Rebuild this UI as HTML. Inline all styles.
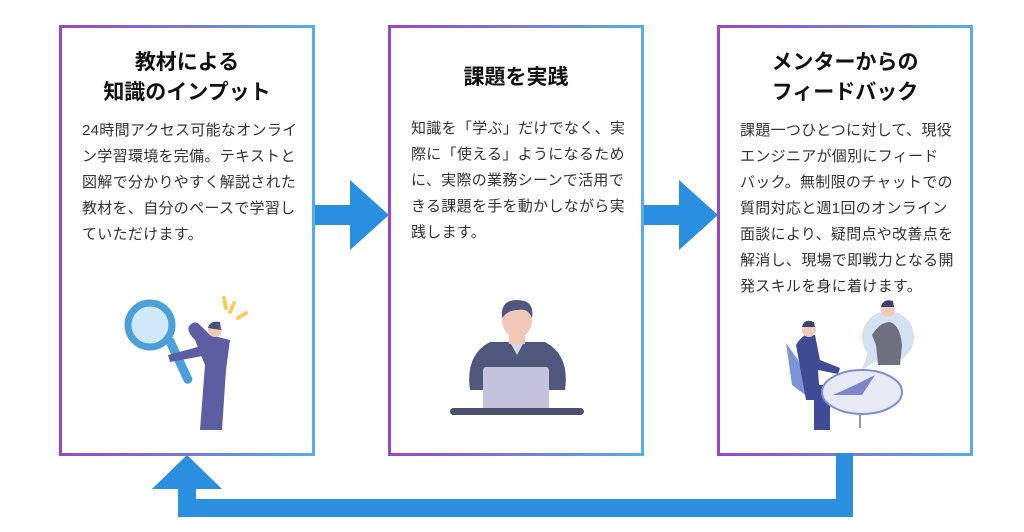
<!DOCTYPE html>
<html><head><meta charset="utf-8"><style>
body{margin:0;width:1024px;height:532px;background:#fff;position:relative;overflow:hidden;font-family:"Liberation Sans","Noto Sans CJK JP",sans-serif;color:#222}
.box{position:absolute;top:25px;width:250px;height:425px;border:3px solid;border-image:linear-gradient(to right,#9b45c9,#55aee8) 1;box-sizing:content-box}
.t{position:absolute;left:0;right:0;text-align:center;font-weight:bold;font-size:21px;line-height:30px;color:#111}
.b{position:absolute;left:20px;font-size:15px;line-height:26px;color:#333;letter-spacing:0.3px;white-space:nowrap}
svg{position:absolute}
</style></head><body>
<div class="box" style="left:59px">
 <div class="t" style="top:20px">教材による<br>知識のインプット</div>
 <div class="b" style="top:90px">24時間アクセス可能なオンライ<br>ン学習環境を完備。テキストと<br>図解で分かりやすく解説された<br>教材を、自分のペースで学習し<br>ていただけます。</div>
</div>
<div class="box" style="left:388px">
 <div class="t" style="top:35px">課題を実践</div>
 <div class="b" style="top:88px">知識を「学ぶ」だけでなく、実<br>際に「使える」ようになるため<br>に、実際の業務シーンで活用で<br>きる課題を手を動かしながら実<br>践します。</div>
</div>
<div class="box" style="left:717px">
 <div class="t" style="top:20px">メンターからの<br>フィードバック</div>
 <div class="b" style="top:90px">課題一つひとつに対して、現役<br>エンジニアが個別にフィード<br>バック。無制限のチャットでの<br>質問対応と週1回のオンライン<br>面談により、疑問点や改善点を<br>解消し、現場で即戦力となる開<br>発スキルを身に着けます。</div>
</div>
<svg width="1024" height="532" style="left:0;top:0">
 <g fill="#2a8fdf">
  <rect x="315" y="205" width="37" height="20"/><polygon points="350,180 389,215 350,250"/>
  <rect x="644" y="205" width="37" height="20"/><polygon points="679,180 718,215 679,250"/>
  <rect x="836" y="453" width="17" height="64"/>
  <rect x="178" y="499" width="675" height="18"/>
  <rect x="178" y="485" width="18" height="32"/>
  <polygon points="152,489 187,455 222,489"/>
 </g>
 <g>
  <circle cx="150" cy="325" r="22" fill="#cfe9f8" stroke="#4aa0d8" stroke-width="7"/>
  <rect x="164" y="338" width="9" height="50" rx="4" fill="#4aa0d8" transform="rotate(-25 168 338)"/>
  <path d="M210 335 L200 325 Q195 320 190 325 Q185 330 195 340 L205 365 L200 430 L222 430 L226 370 L230 340 Z" fill="#5d5da4"/>
  <path d="M168 355 L205 345 L208 355 L170 362 Z" fill="#5d5da4"/>
  <circle cx="215" cy="330" r="7" fill="#f2c9b8"/><path d="M208 328 Q210 320 220 322 L221 330 Z" fill="#4c5080"/>
  <g stroke="#f7cf5a" stroke-width="4" stroke-linecap="round"><line x1="224" y1="298" x2="226" y2="308"/><line x1="234" y1="303" x2="230" y2="312"/><line x1="246" y1="313" x2="238" y2="318"/></g>
 </g>
 <g>
  <path d="M470 390 Q465 355 490 342 L545 342 Q570 355 565 390 Z" fill="#4f587c"/>
  <path d="M510 342 L517 355 L524 342 Z" fill="#d5d6e8"/>
  <rect x="509" y="328" width="16" height="16" fill="#f1c8b7"/>
  <ellipse cx="517" cy="320" rx="15" ry="18" fill="#f1c8b7"/>
  <path d="M502 318 Q500 300 517 300 Q535 300 532 318 Q528 308 518 310 Q508 310 502 318 Z" fill="#4f587c"/>
  <rect x="483" y="367" width="66" height="45" rx="3" fill="#c3c3dc"/>
  <rect x="450" y="408" width="134" height="7" rx="3.5" fill="#4a4f6c"/>
 </g>
 <g>
  <circle cx="888" cy="337" r="26" fill="#d4e1f1"/>
  <polygon points="868,352 862,370 878,360" fill="#d4e1f1"/>
  <path d="M872 335 Q880 322 890 322 Q900 325 902 345 L900 365 L878 365 L876 345 Z" fill="#6e7080"/>
  <circle cx="888" cy="310" r="7" fill="#f2c9b8"/><path d="M881 307 Q883 298 893 301 L894 307 Z" fill="#3c4270"/>
  <path d="M786 343 L792 385 L812 400 L798 360 Z" fill="#7b94d8"/>
  <path d="M796 345 Q805 330 815 335 L820 360 L840 368 L838 374 L818 370 L820 400 L806 400 Z" fill="#3f4b94"/>
  <rect x="814" y="385" width="16" height="45" fill="#3f4b94"/>
  <circle cx="809" cy="330" r="7" fill="#f2c9b8"/><path d="M802 327 Q804 318 814 322 L815 327 Z" fill="#3c4270"/>
  <ellipse cx="862" cy="392" rx="40" ry="22" fill="#e7eaf4" stroke="#7b90d8" stroke-width="2"/>
  <path d="M833 395 L855 385 L875 375 L862 395 Z" fill="#7c86c8"/>
  <line x1="860" y1="414" x2="860" y2="428" stroke="#999" stroke-width="2"/>
 </g>
</svg>
</body></html>
